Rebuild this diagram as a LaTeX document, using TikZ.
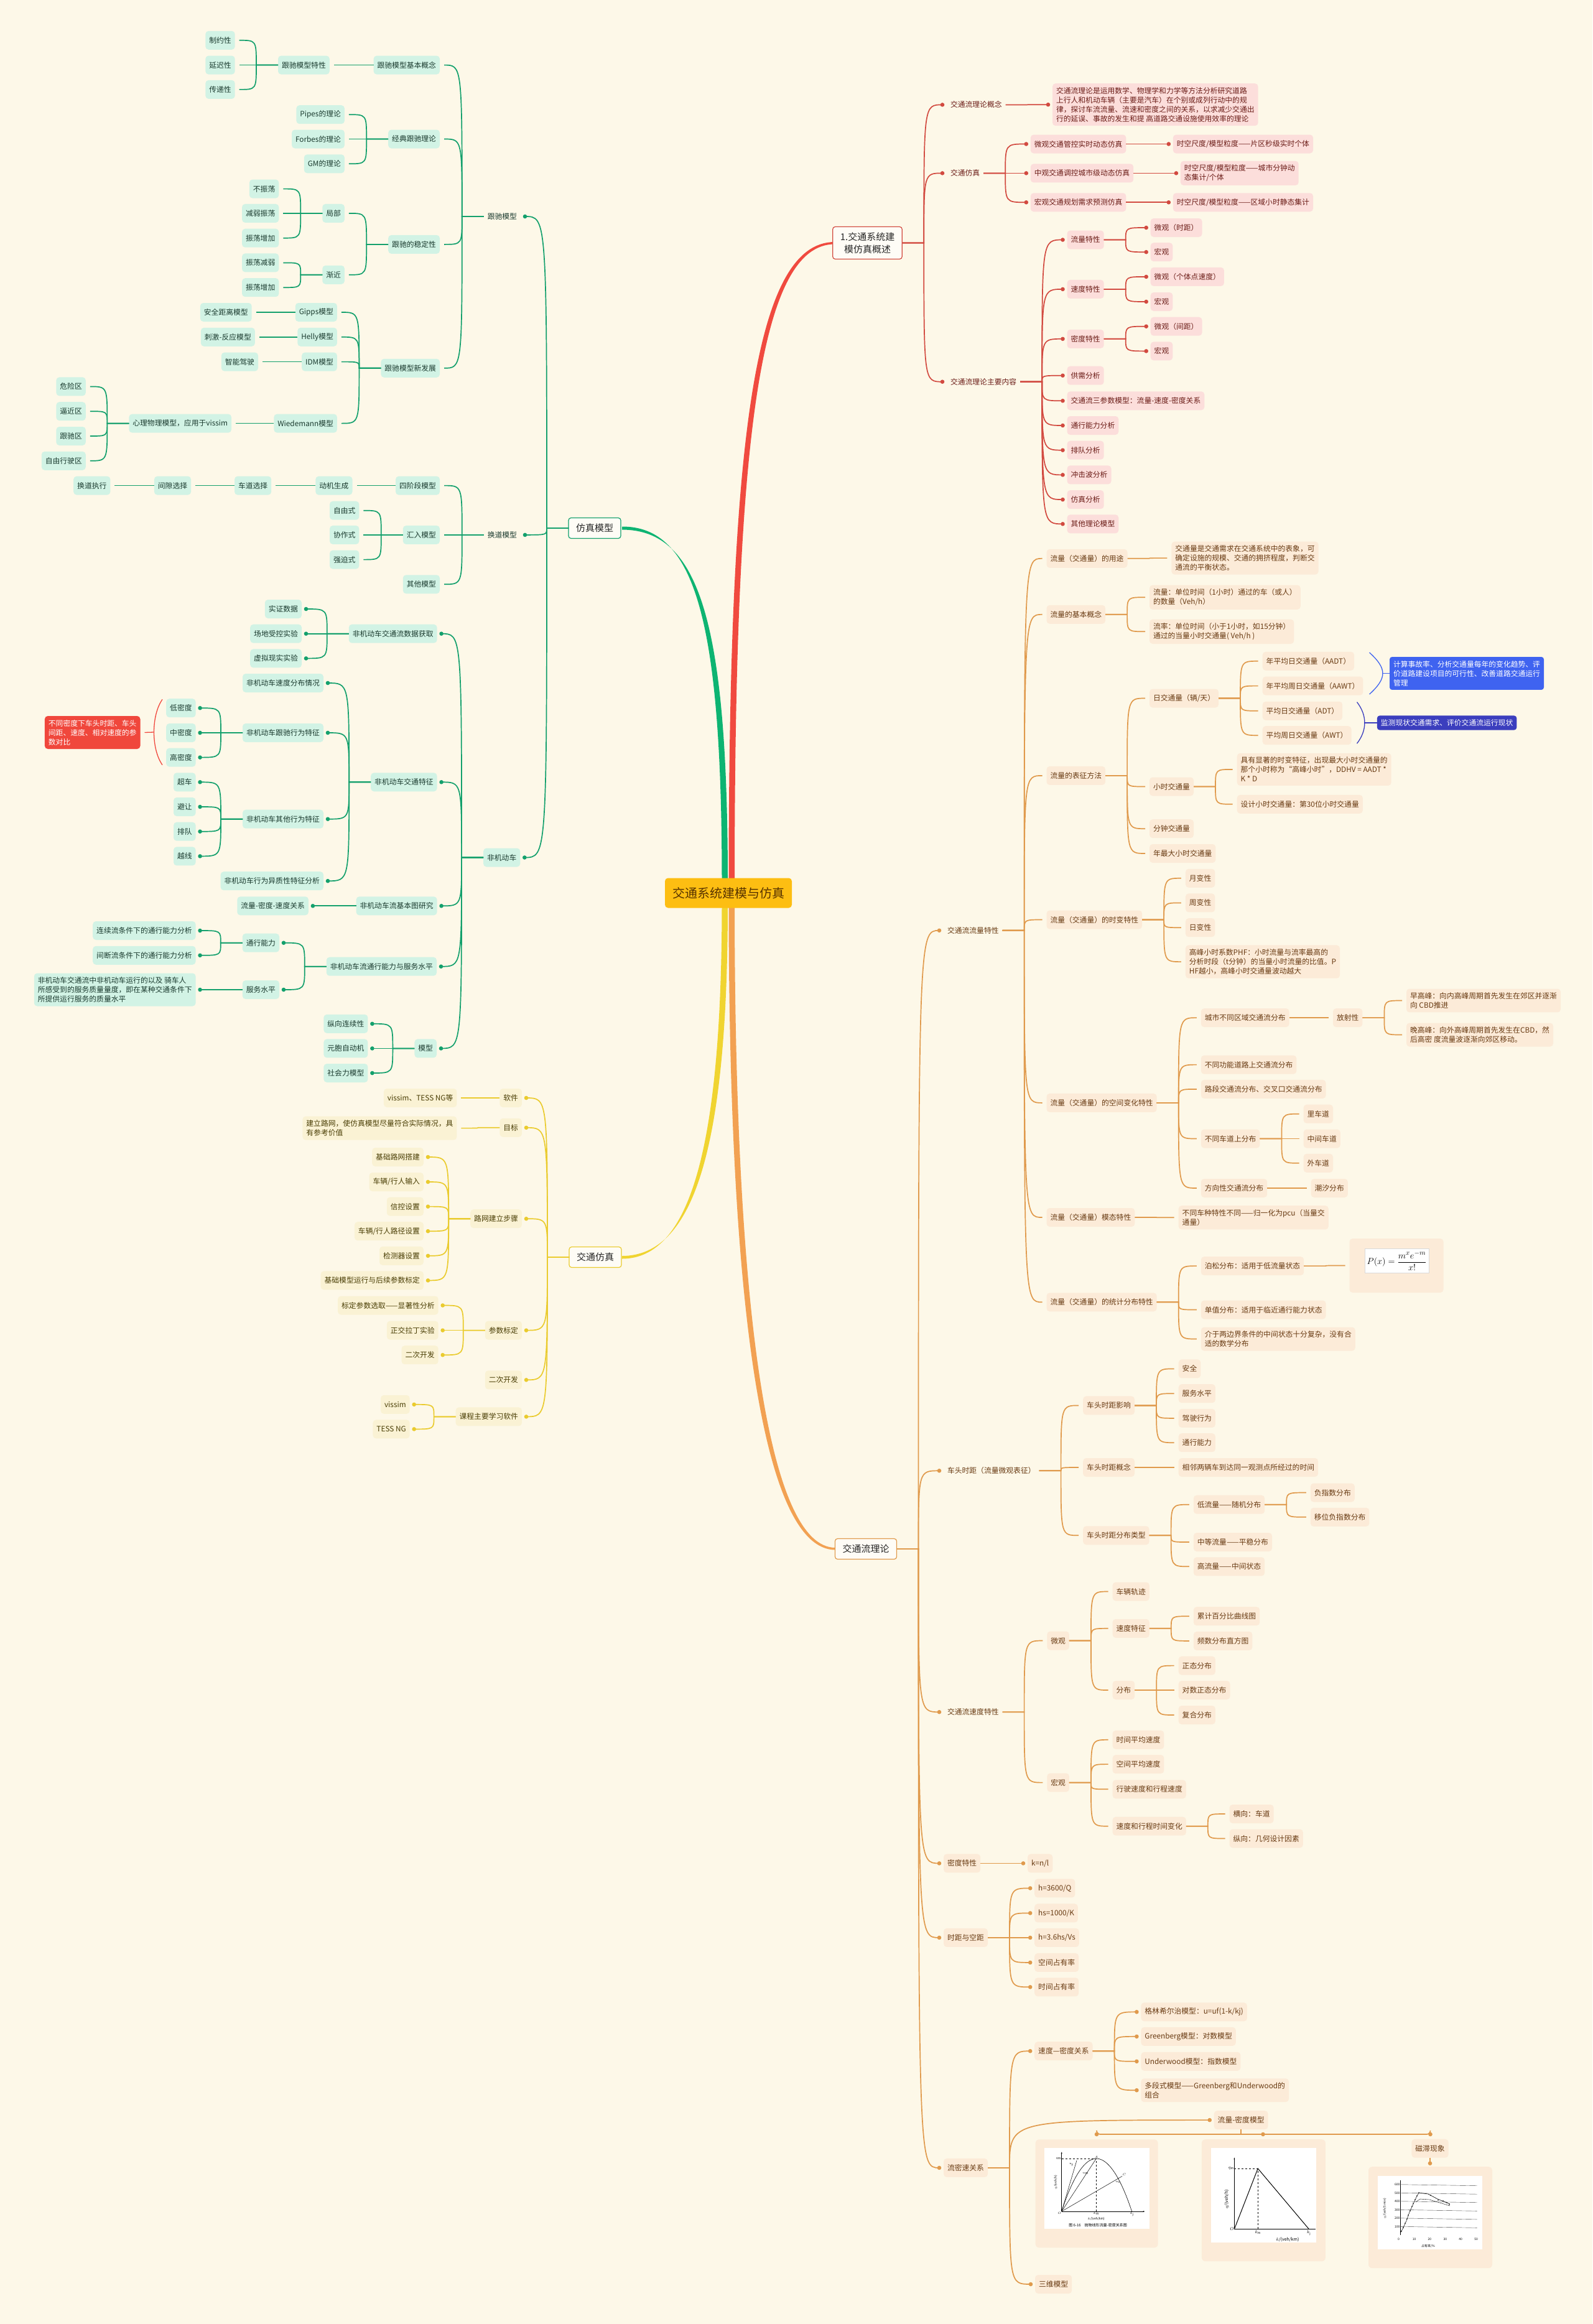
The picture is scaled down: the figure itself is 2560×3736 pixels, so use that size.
\documentclass[tikz,border=0pt]{standalone}
\usepackage{amsmath}
\usepackage{fontspec}
\setmainfont{Noto Sans CJK SC}
\usetikzlibrary{positioning,calc,arrows.meta}

\definecolor{bgc}{HTML}{FDF8E8}
\definecolor{gline}{HTML}{13A06C}
\definecolor{gband}{HTML}{0DB472}
\definecolor{gfill}{HTML}{D2F3E5}
\definecolor{gtext}{HTML}{1A3A2E}
\definecolor{rline}{HTML}{D24A40}
\definecolor{rband}{HTML}{F04A3F}
\definecolor{rfill}{HTML}{FCDEDB}
\definecolor{rtext}{HTML}{6B1C17}
\definecolor{oline}{HTML}{E09A4C}
\definecolor{oband}{HTML}{F2A152}
\definecolor{ofill}{HTML}{FCEBD8}
\definecolor{otext}{HTML}{683A12}
\definecolor{yline}{HTML}{EACB2E}
\definecolor{yband}{HTML}{F0D430}
\definecolor{yfill}{HTML}{FAF2D4}
\definecolor{ytext}{HTML}{4A3E05}
\definecolor{rootc}{HTML}{FDBE12}
\definecolor{roottext}{HTML}{573300}
\definecolor{callred}{HTML}{F0473C}
\definecolor{blueA}{HTML}{3F63F0}
\definecolor{blueB}{HTML}{3B3EBE}

\tikzset{
  base/.style={rounded corners=5pt, inner xsep=6pt, inner ysep=6pt, minimum height=30pt,
    outer xsep=7pt, outer ysep=0pt, align=left, font=\fontsize{11.8}{15}\selectfont},
  L/.style={base, anchor=east, xshift=7pt},
  R/.style={base, anchor=west, xshift=-7pt},
  gn/.style={fill=gfill, text=gtext},
  gt/.style={text=gtext},
  rn/.style={fill=rfill, text=rtext},
  rt/.style={text=rtext},
  on/.style={fill=ofill, text=otext},
  ot/.style={text=otext},
  yn/.style={fill=yfill, text=ytext},
  mainbox/.style={rounded corners=4pt, draw, line width=1.2pt, fill=white!60!bgc, text=black!85,
    inner xsep=12pt, inner ysep=6pt, minimum height=33pt, outer xsep=7pt, align=center,
    font=\fontsize{15}{20}\selectfont},
  bluebox/.style={rounded corners=4pt, inner xsep=6pt, inner ysep=6pt, anchor=west, align=left,
    text=white, font=\fontsize{11.8}{15}\selectfont},
  gl/.style={color=gline, line width=1.7pt},
  rl/.style={color=rline, line width=1.7pt},
  ol/.style={color=oline, line width=1.7pt},
  yl/.style={color=yline, line width=1.7pt},
  plt/.style={font=\fontsize{5}{6}\selectfont, inner sep=0.5pt},
  pltb/.style={font=\fontsize{7}{8}\selectfont, inner sep=0.5pt},
  axis/.style={line width=0.5pt, -{Stealth[length=3pt,width=2pt]}}
}

% connectors: left side runs from parent.west, right side from parent.east
\newcommand\linkL[3][gl]{\draw[#1] ([xshift=7pt]#2.west) -- ++(-35,0) coordinate (sp) .. controls (sp |- #3.east) .. (#3.east);}
\newcommand\linkLd[3][gl]{\linkL[#1]{#2}{#3}\fill[#1] (#3.east) circle (3.3);}
\newcommand\linkR[3][ol]{\draw[#1] ([xshift=-7pt]#2.east) -- ++(35,0) coordinate (sp) .. controls (sp |- #3.west) .. (#3.west);}
\newcommand\linkRd[3][ol]{\linkR[#1]{#2}{#3}\fill[#1] (#3.west) circle (3.3);}

\begin{document}
\begin{tikzpicture}[x=1pt,y=-1pt]
\useasboundingbox (0,0) rectangle (2560,3736);
\fill[bgc] (0,0) rectangle (2560,3736);

% the four thick main branches
\fill[gband] (1160.5,1420) .. controls (1160.5,1000) and (1118,846) .. (1000,846.5) -- (1000,851.5) .. controls (1124,851.5) and (1170,1000) .. (1170,1420) -- cycle;
\fill[rband] (1171.5,1420) .. controls (1171.5,700) and (1214,389) .. (1342,389) -- (1342,392.5) .. controls (1222,392.5) and (1181,700) .. (1181,1420) -- cycle;
\fill[yband] (1160.5,1450) .. controls (1160.5,1850) and (1108,2023.5) .. (1000,2023.5) -- (1000,2019) .. controls (1114,2019) and (1170,1850) .. (1170,1450) -- cycle;
\fill[oband] (1171.5,1450) .. controls (1171.5,2100) and (1226,2491.5) .. (1343,2491.5) -- (1343,2488) .. controls (1234,2488) and (1181,2100) .. (1181,1450) -- cycle;

% the root and the main nodes
\node[rounded corners=5pt, fill=rootc, text=roottext, inner xsep=12pt, minimum height=48pt,
  font=\fontsize{20}{24}\selectfont] (root) at (1171,1435.5) {交通系统建模与仿真};
\node[mainbox, draw=gline] (fzmx) at (956,849) {仿真模型};
\node[mainbox, draw=yline] (jtfz) at (957,2021) {交通仿真};
\node[mainbox, draw=rline, inner ysep=9pt] (gsz) at (1394.5,390.5) {1.交通系统建\\模仿真概述};
\node[mainbox, draw=oline] (jtl) at (1392,2490) {交通流理论};

%%%%%%%%%%%%%%%%%%%
%%% 仿真模型
%%%%%%%%%%%%%%%%%%%
\node[L,gt] (gcm) at (837,348) {跟驰模型};
\node[L,gt] (hdm) at (837,859.9) {换道模型};
\node[L,gn] (fjd) at (836.3,1378.5) {非机动车};
\linkLd{fzmx}{gcm}\linkLd{fzmx}{hdm}\linkLd{fzmx}{fjd}

% 跟驰模型
\node[L,gn] (gjb) at (707,104.6) {跟驰模型基本概念};
\node[L,gn] (gtx) at (529.8,104.6) {跟驰模型特性};
\node[L,gn] (zyx) at (377.7,64.8) {制约性};
\node[L,gn] (ycx) at (377.7,104.6) {延迟性};
\node[L,gn] (cdx) at (377.7,143.9) {传递性};
\node[L,gn] (gjd) at (707,223.5) {经典跟驰理论};
\node[L,gn] (pip) at (553.9,184.2) {Pipes的理论};
\node[L,gn] (frb) at (553.9,223.5) {Forbes的理论};
\node[L,gn] (gmt) at (553.9,263.3) {GM的理论};
\node[L,gn] (gwd) at (707,392.9) {跟驰的稳定性};
\node[L,gn] (jbu) at (553.9,342.9) {局部};
\node[L,gn] (jji) at (553.9,441.8) {渐近};
\node[L,gn] (bzd) at (448.3,303.6) {不振荡};
\node[L,gn] (jrz) at (448.3,342.9) {减弱振荡};
\node[L,gn] (zzja) at (448.3,382.7) {振荡增加};
\node[L,gn] (zdj) at (448.3,422.4) {振荡减弱};
\node[L,gn] (zzjb) at (448.3,462.2) {振荡增加};
\node[L,gn] (gxf) at (707,591.8) {跟驰模型新发展};
\node[L,gn] (gip) at (541.9,502) {Gipps模型};
\node[L,gn] (hly) at (541.9,541.8) {Helly模型};
\node[L,gn] (idm) at (541.9,581.6) {IDM模型};
\node[L,gn] (wdm) at (541.9,680.6) {Wiedemann模型};
\node[L,gn] (aqj) at (404.7,502) {安全距离模型};
\node[L,gn] (cjf) at (409.8,541.8) {刺激-反应模型};
\node[L,gn] (znj) at (415,581.6) {智能驾驶};
\node[L,gn] (xlw) at (372,680.6) {心理物理模型，应用于vissim};
\node[L,gn] (wxq) at (137.8,621.4) {危险区};
\node[L,gn] (bjq) at (137.8,661.2) {逼近区};
\node[L,gn] (gcq) at (137.8,701) {跟驰区};
\node[L,gn] (zxq) at (137.8,740.8) {自由行驶区};
\linkL{gcm}{gjb}\linkL{gcm}{gjd}\linkL{gcm}{gwd}\linkL{gcm}{gxf}
\linkL{gjb}{gtx}
\linkL{gtx}{zyx}\linkL{gtx}{ycx}\linkL{gtx}{cdx}
\linkL{gjd}{pip}\linkL{gjd}{frb}\linkL{gjd}{gmt}
\linkL{gwd}{jbu}\linkL{gwd}{jji}
\linkL{jbu}{bzd}\linkL{jbu}{jrz}\linkL{jbu}{zzja}
\linkL{jji}{zdj}\linkL{jji}{zzjb}
\linkL{gxf}{gip}\linkL{gxf}{hly}\linkL{gxf}{idm}\linkL{gxf}{wdm}
\linkL{gip}{aqj}\linkL{hly}{cjf}\linkL{idm}{znj}\linkL{wdm}{xlw}
\linkL{xlw}{wxq}\linkL{xlw}{bjq}\linkL{xlw}{gcq}\linkL{xlw}{zxq}

% 换道模型
\node[L,gn] (sjd) at (707,780.6) {四阶段模型};
\node[L,gn] (djs) at (566.5,780.6) {动机生成};
\node[L,gn] (cdxz) at (436.2,780.6) {车道选择};
\node[L,gn] (jxxz) at (307.1,780.6) {间隙选择};
\node[L,gn] (hdzx) at (177.4,780.6) {换道执行};
\node[L,gn] (hrm) at (707,859.9) {汇入模型};
\node[L,gn] (zysh) at (577.4,820.7) {自由式};
\node[L,gn] (xzsh) at (577.4,859.9) {协作式};
\node[L,gn] (qpsh) at (577.4,899.6) {强迫式};
\node[L,gn] (qtm) at (707,939.3) {其他模型};
\linkL{hdm}{sjd}\linkL{hdm}{hrm}\linkL{hdm}{qtm}
\linkL{sjd}{djs}\linkL{djs}{cdxz}\linkL{cdxz}{jxxz}\linkL{jxxz}{hdzx}
\linkL{hrm}{zysh}\linkL{hrm}{xzsh}\linkL{hrm}{qpsh}

% 非机动车
\node[L,gn] (fsj) at (702.6,1018.7) {非机动车交通流数据获取};
\node[L,gn] (szsj) at (485,979) {实证数据};
\node[L,gn] (cdsy) at (485,1018.7) {场地受控实验};
\node[L,gn] (xnsy) at (485,1058.4) {虚拟现实实验};
\node[L,gn] (ftz) at (702.6,1257.3) {非机动车交通特征};
\node[L,gn] (fsd) at (520,1098) {非机动车速度分布情况};
\node[L,gn] (fgc) at (520,1178) {非机动车跟驰行为特征};
\node[L,gn] (fqt) at (520,1316.7) {非机动车其他行为特征};
\node[L,gn] (fyz) at (520,1416.2) {非机动车行为异质性特征分析};
\node[L,gn] (dmd) at (314.6,1138.2) {低密度};
\node[L,gn] (zmd) at (314.6,1178) {中密度};
\node[L,gn] (gmd) at (314.6,1217.6) {高密度};
\node[L,gn] (cche) at (314.6,1257.3) {超车};
\node[L,gn] (bran) at (314.6,1297) {避让};
\node[L,gn] (pdui) at (314.6,1336.7) {排队};
\node[L,gn] (yxian) at (314.6,1376.4) {越线};
\node[L,gn] (fjb) at (702.6,1456.3) {非机动车流基本图研究};
\node[L,gn] (lms) at (495.9,1456.3) {流量-密度-速度关系};
\node[L,gn] (ftx) at (702,1553.7) {非机动车流通行能力与服务水平};
\node[L,gn] (txnl) at (449,1515.7) {通行能力};
\node[L,gn] (fwsp) at (449,1591) {服务水平};
\node[L,gn] (lxl) at (314.6,1496) {连续流条件下的通行能力分析};
\node[L,gn] (jdl) at (314.6,1535.8) {间断流条件下的通行能力分析};
\node[L,gn] (fwms) at (314.6,1591) {非机动车交通流中非机动车运行的以及 骑车人\\所感受到的服务质量量度，即在某种交通条件下\\所提供运行服务的质量水平};
\node[L,gn] (fmx) at (702,1685.4) {模型};
\node[L,gn] (zxlx) at (591.4,1645.8) {纵向连续性};
\node[L,gn] (ybzd) at (591.4,1685.4) {元胞自动机};
\node[L,gn] (shl) at (591.4,1725) {社会力模型};
\linkLd{fjd}{fsj}\linkLd{fjd}{ftz}\linkLd{fjd}{fjb}\linkLd{fjd}{ftx}\linkLd{fjd}{fmx}
\linkLd{fsj}{szsj}\linkLd{fsj}{cdsy}\linkLd{fsj}{xnsy}
\linkLd{ftz}{fsd}\linkLd{ftz}{fgc}\linkLd{ftz}{fqt}\linkLd{ftz}{fyz}
\linkLd{fgc}{dmd}\linkLd{fgc}{zmd}\linkLd{fgc}{gmd}
\linkLd{fqt}{cche}\linkLd{fqt}{bran}\linkLd{fqt}{pdui}\linkLd{fqt}{yxian}
\linkLd{fjb}{lms}
\linkLd{ftx}{txnl}\linkLd{ftx}{fwsp}
\linkLd{txnl}{lxl}\linkLd{txnl}{jdl}\linkLd{fwsp}{fwms}
\linkLd{fmx}{zxlx}\linkLd{fmx}{ybzd}\linkLd{fmx}{shl}

% the red note on the three densities
\node[base, fill=callred, text=white] (dbd) at (148.7,1177.5) {不同密度下车头时距、车头\\间距、速度、相对速度的参\\数对比};
\draw[callred, line width=1.3pt] (261,1124.4) .. controls (243,1150) and (243,1204) .. (261,1229.6);
\draw[callred, line width=1.3pt] (247.5,1177) -- (dbd.east);

%%%%%%%%%%%%%%%%%%%
%%% 交通仿真
%%%%%%%%%%%%%%%%%%%
\node[L,yn] (rj) at (839,1765) {软件};
\node[L,yn] (rjd) at (734.4,1765) {vissim、TESS NG等};
\node[L,yn] (mb) at (839,1812.8) {目标};
\node[L,yn] (mbd) at (734.4,1813.6) {建立路网，使仿真模型尽量符合实际情况，具\\有参考价值};
\node[L,yn] (lw) at (839,1959.2) {路网建立步骤};
\node[L,yn] (lwa) at (681,1860) {基础路网搭建};
\node[L,yn] (lwb) at (681,1900) {车辆/行人输入};
\node[L,yn] (lwc) at (681,1939.6) {信控设置};
\node[L,yn] (lwd) at (681,1979.2) {车辆/行人路径设置};
\node[L,yn] (lwe) at (681,2018.8) {检测器设置};
\node[L,yn] (lwf) at (681,2058.4) {基础模型运行与后续参数标定};
\node[L,yn] (csbd) at (839,2138.6) {参数标定};
\node[L,yn] (csa) at (704.7,2098.5) {标定参数选取——显著性分析};
\node[L,yn] (csb) at (704.7,2138.6) {正交拉丁实验};
\node[L,yn] (csc) at (704.7,2178.2) {二次开发};
\node[L,yn] (eckf) at (839,2218.3) {二次开发};
\node[L,yn] (kcrj) at (839,2277.4) {课程主要学习软件};
\node[L,yn] (kca) at (658.7,2257.8) {vissim};
\node[L,yn] (kcb) at (658.7,2297.4) {TESS NG};
\linkLd[yl]{jtfz}{rj}\linkLd[yl]{jtfz}{mb}\linkLd[yl]{jtfz}{lw}\linkLd[yl]{jtfz}{csbd}\linkLd[yl]{jtfz}{eckf}\linkLd[yl]{jtfz}{kcrj}
\linkL[yl]{rj}{rjd}\linkL[yl]{mb}{mbd}
\linkLd[yl]{lw}{lwa}\linkLd[yl]{lw}{lwb}\linkLd[yl]{lw}{lwc}\linkLd[yl]{lw}{lwd}\linkLd[yl]{lw}{lwe}\linkLd[yl]{lw}{lwf}
\linkLd[yl]{csbd}{csa}\linkLd[yl]{csbd}{csb}\linkLd[yl]{csbd}{csc}
\linkLd[yl]{kcrj}{kca}\linkLd[yl]{kcrj}{kcb}

%%%%%%%%%%%%%%%%%%%
%%% 1.交通系统建模仿真概述
%%%%%%%%%%%%%%%%%%%
\node[R,rt] (glgn) at (1522,168.4) {交通流理论概念};
\node[R,rn] (glgd) at (1692,168.2) {交通流理论是运用数学、物理学和力学等方法分析研究道路\\上行人和机动车辆（主要是汽车）在个别或成列行动中的规\\律，探讨车流流量、流速和密度之间的关系，以求减少交通出\\行的延误、事故的发生和提 高道路交通设施使用效率的理论};
\node[R,rt] (jfz) at (1522,278.4) {交通仿真};
\node[R,rn] (fza) at (1656.8,231.5) {微观交通管控实时动态仿真};
\node[R,rn] (fzb) at (1656.8,278.4) {中观交通调控城市级动态仿真};
\node[R,rn] (fzc) at (1656.8,325.3) {宏观交通规划需求预测仿真};
\node[R,rn] (fzad) at (1885.8,231.5) {时空尺度/模型粒度——片区秒级实时个体};
\node[R,rn] (fzbd) at (1897.9,278.4) {时空尺度/模型粒度——城市分钟动\\态集计/个体};
\node[R,rn] (fzcd) at (1885.8,325.3) {时空尺度/模型粒度——区域小时静态集计};
\node[R,rt] (zynr) at (1522,613.7) {交通流理论主要内容};
\node[R,rn] (ra) at (1715.5,385.5) {流量特性};
\node[R,rn] (raa) at (1849.7,366) {微观（时距）};
\node[R,rn] (rab) at (1849.7,405.2) {宏观};
\node[R,rn] (rb) at (1715.5,464.9) {速度特性};
\node[R,rn] (rba) at (1849.7,444.9) {微观（个体点速度）};
\node[R,rn] (rbb) at (1849.7,485) {宏观};
\node[R,rn] (rc) at (1715.5,544.8) {密度特性};
\node[R,rn] (rca) at (1849.7,524.7) {微观（间距）};
\node[R,rn] (rcb) at (1849.7,564.4) {宏观};
\node[R,rn] (rd) at (1715.5,603.7) {供需分析};
\node[R,rn] (re) at (1715.5,644.3) {交通流三参数模型：流量-速度-密度关系};
\node[R,rn] (rf) at (1715.5,684) {通行能力分析};
\node[R,rn] (rg) at (1715.5,723.7) {排队分析};
\node[R,rn] (rh) at (1715.5,763.4) {冲击波分析};
\node[R,rn] (ri) at (1715.5,803.1) {仿真分析};
\node[R,rn] (rj2) at (1715.5,842.3) {其他理论模型};
\linkRd[rl]{gsz}{glgn}\linkRd[rl]{gsz}{jfz}\linkRd[rl]{gsz}{zynr}
\linkRd[rl]{glgn}{glgd}
\linkRd[rl]{jfz}{fza}\linkRd[rl]{jfz}{fzb}\linkRd[rl]{jfz}{fzc}
\linkRd[rl]{fza}{fzad}\linkRd[rl]{fzb}{fzbd}\linkRd[rl]{fzc}{fzcd}
\linkRd[rl]{zynr}{ra}\linkRd[rl]{zynr}{rb}\linkRd[rl]{zynr}{rc}\linkRd[rl]{zynr}{rd}\linkRd[rl]{zynr}{re}
\linkRd[rl]{zynr}{rf}\linkRd[rl]{zynr}{rg}\linkRd[rl]{zynr}{rh}\linkRd[rl]{zynr}{ri}\linkRd[rl]{zynr}{rj2}
\linkRd[rl]{ra}{raa}\linkRd[rl]{ra}{rab}\linkRd[rl]{rb}{rba}\linkRd[rl]{rb}{rbb}\linkRd[rl]{rc}{rca}\linkRd[rl]{rc}{rcb}

%%%%%%%%%%%%%%%%%%%
%%% 交通流理论
%%%%%%%%%%%%%%%%%%%
\node[R,ot] (ola) at (1517,1495.8) {交通流流量特性};
\node[R,ot] (olb) at (1517,2364.3) {车头时距（流量微观表征）};
\node[R,ot] (olc) at (1517,2752.2) {交通流速度特性};
\node[R,on] (old) at (1517,2995.4) {密度特性};
\node[R,on] (ole) at (1517,3114.9) {时距与空距};
\node[R,on] (olf) at (1517,3484.9) {流密速关系};
\linkRd{jtl}{ola}\linkRd{jtl}{olb}\linkRd{jtl}{olc}\linkRd{jtl}{old}\linkRd{jtl}{ole}\linkRd{jtl}{olf}

% 交通流流量特性
\node[R,on] (yt) at (1682.5,897.8) {流量（交通量）的用途};
\node[R,on] (ytd) at (1883.4,897.1) {交通量是交通需求在交通系统中的表象，可\\确定设施的规模、交通的拥挤程度，判断交\\通流的平衡状态。};
\node[R,on] (jbgn) at (1682.5,987.8) {流量的基本概念};
\node[R,on] (jbga) at (1848,960.2) {流量：单位时间（1小时）通过的车（或人）\\的数量（Veh/h）};
\node[R,on] (jbgb) at (1848,1015.3) {流率：单位时间（小于1小时，如15分钟）\\通过的当量小时交通量( Veh/h )};
\node[R,on] (bzff) at (1682.5,1246.9) {流量的表征方法};
\node[R,on] (rjtl) at (1848,1122.5) {日交通量（辆/天）};
\node[R,on] (aadt) at (2029.7,1062.8) {年平均日交通量（AADT）};
\node[R,on] (aawt) at (2029.7,1102.6) {年平均周日交通量（AAWT）};
\node[R,on] (adt) at (2029.7,1142.8) {平均日交通量（ADT）};
\node[R,on] (awt) at (2029.7,1182.2) {平均周日交通量（AWT）};
\node[R,on] (xsjt) at (1848,1264.5) {小时交通量};
\node[R,on] (xsja) at (1988.7,1236.9) {具有显著的时变特征，出现最大小时交通量的\\那个小时称为“高峰小时”，DDHV = AADT *\\K * D};
\node[R,on] (xsjb) at (1988.7,1292.8) {设计小时交通量：第30位小时交通量};
\node[R,on] (fzjt) at (1848,1332.2) {分钟交通量};
\node[R,on] (nzd) at (1848,1372) {年最大小时交通量};
\node[R,on] (sbtx) at (1682.5,1478.5) {流量（交通量）的时变特性};
\node[R,on] (ybx) at (1905.9,1411.8) {月变性};
\node[R,on] (zbx) at (1905.9,1451.4) {周变性};
\node[R,on] (rbx) at (1905.9,1491.2) {日变性};
\node[R,on] (phf) at (1905.9,1546.1) {高峰小时系数PHF：小时流量与流率最高的\\分析时段（t分钟）的当量小时流量的比值。P\\HF越小，高峰小时交通量波动越大};
\node[R,on] (kjbh) at (1682.5,1772.9) {流量（交通量）的空间变化特性};
\node[R,on] (csqy) at (1930.8,1636.1) {城市不同区域交通流分布};
\node[R,on] (fsx) at (2143,1636.1) {放射性};
\node[R,on] (zgf) at (2261,1608.5) {早高峰：向内高峰周期首先发生在郊区并逐渐\\向 CBD推进};
\node[R,on] (wgf) at (2261,1663.5) {晚高峰：向外高峰周期首先发生在CBD，然\\后高密 度流量波逐渐向郊区移动。};
\node[R,on] (bgn) at (1930.8,1711.6) {不同功能道路上交通流分布};
\node[R,on] (ldjc) at (1930.8,1750.9) {路段交通流分布、交叉口交通流分布};
\node[R,on] (bcd) at (1930.8,1830.5) {不同车道上分布};
\node[R,on] (lcd) at (2095.6,1790.7) {里车道};
\node[R,on] (zjcd) at (2095.6,1830.5) {中间车道};
\node[R,on] (wcd) at (2095.6,1869.8) {外车道};
\node[R,on] (fxx) at (1930.8,1910) {方向性交通流分布};
\node[R,on] (cxfb) at (2107.6,1910) {潮汐分布};
\node[R,on] (mttx) at (1682.5,1957) {流量（交通量）模态特性};
\node[R,on] (pcu) at (1894.7,1957.3) {不同车种特性不同——归一化为pcu（当量交\\通量）};
\node[R,on] (tjfb) at (1682.5,2093.3) {流量（交通量）的统计分布特性};
\node[R,on] (bsfb) at (1930.8,2035.1) {泊松分布：适用于低流量状态};
\node[R,on] (dzfb) at (1930.8,2105.5) {单值分布：适用于临近通行能力状态};
\node[R,on] (zjzt) at (1930.8,2152.5) {介于两边界条件的中间状态十分复杂，没有合\\适的数学分布};
\node[R, fill=ofill, minimum width=151pt, minimum height=87pt] (psf) at (2169.5,2034.5) {};
\node[fill=white, draw=black!15, inner sep=4pt, font=\fontsize{15}{18}\selectfont] (psfin) at (2245.5,2027) {$P(x)=\dfrac{m^{x}e^{-m}}{x!}$};
\linkR{ola}{yt}\linkR{ola}{jbgn}\linkR{ola}{bzff}\linkR{ola}{sbtx}\linkR{ola}{kjbh}\linkR{ola}{mttx}\linkR{ola}{tjfb}
\linkR{yt}{ytd}
\linkR{jbgn}{jbga}\linkR{jbgn}{jbgb}
\linkR{bzff}{rjtl}\linkR{bzff}{xsjt}\linkR{bzff}{fzjt}\linkR{bzff}{nzd}
\linkR{rjtl}{aadt}\linkR{rjtl}{aawt}\linkR{rjtl}{adt}\linkR{rjtl}{awt}
\linkR{xsjt}{xsja}\linkR{xsjt}{xsjb}
\linkR{sbtx}{ybx}\linkR{sbtx}{zbx}\linkR{sbtx}{rbx}\linkR{sbtx}{phf}
\linkR{kjbh}{csqy}\linkR{kjbh}{bgn}\linkR{kjbh}{ldjc}\linkR{kjbh}{bcd}\linkR{kjbh}{fxx}
\linkR{csqy}{fsx}\linkR{fsx}{zgf}\linkR{fsx}{wgf}
\linkR{bcd}{lcd}\linkR{bcd}{zjcd}\linkR{bcd}{wcd}
\linkR{fxx}{cxfb}
\linkR{mttx}{pcu}
\linkR{tjfb}{bsfb}\linkR{tjfb}{dzfb}\linkR{tjfb}{zjzt}
\linkR{bsfb}{psf}

% the two blue notes on the daily volumes
\node[bluebox, fill=blueA] (zsa) at (2233.8,1082.5) {计算事故率、分析交通量每年的变化趋势、评\\价道路建设项目的可行性、改善道路交通运行\\管理};
\node[bluebox, fill=blueB] (zsb) at (2213.7,1162) {监测现状交通需求、评价交通流运行现状};
\draw[blueA, line width=1.3pt] (2201.6,1049) .. controls (2230,1075) and (2230,1090) .. (2201.6,1116);
\draw[blueA, line width=1.3pt] (2222.9,1082.5) -- (zsa.west);
\draw[blueB, line width=1.3pt] (2181.5,1128.6) .. controls (2198,1150) and (2198,1174) .. (2181.5,1195.2);
\draw[blueB, line width=1.3pt] (2193.9,1162) -- (zsb.west);

% 车头时距
\node[R,on] (ctyx) at (1741.2,2259.4) {车头时距影响};
\node[R,on] (aq) at (1894.7,2200.4) {安全};
\node[R,on] (fwsa) at (1894.7,2240.2) {服务水平};
\node[R,on] (jsxw) at (1894.7,2279.9) {驾驶行为};
\node[R,on] (txnb) at (1894.7,2319.2) {通行能力};
\node[R,on] (ctgn) at (1741.2,2359) {车头时距概念};
\node[R,on] (xlcd) at (1894.7,2359) {相邻两辆车到达同一观测点所经过的时间};
\node[R,on] (ctfb) at (1741.2,2468.3) {车头时距分布类型};
\node[R,on] (dll) at (1918.8,2418.7) {低流量——随机分布};
\node[R,on] (fzs) at (2106.8,2399.5) {负指数分布};
\node[R,on] (ywf) at (2106.8,2438.8) {移位负指数分布};
\node[R,on] (zdl) at (1918.8,2479) {中等流量——平稳分布};
\node[R,on] (gll) at (1918.8,2518.3) {高流量——中间状态};
\linkR{olb}{ctyx}\linkR{olb}{ctgn}\linkR{olb}{ctfb}
\linkR{ctyx}{aq}\linkR{ctyx}{fwsa}\linkR{ctyx}{jsxw}\linkR{ctyx}{txnb}
\linkR{ctgn}{xlcd}
\linkR{ctfb}{dll}\linkR{ctfb}{zdl}\linkR{ctfb}{gll}
\linkR{dll}{fzs}\linkR{dll}{ywf}

% 交通流速度特性
\node[R,on] (wg) at (1683.3,2637.5) {微观};
\node[R,on] (clgj) at (1788.6,2558.5) {车辆轨迹};
\node[R,on] (sdtz) at (1788.6,2617.8) {速度特征};
\node[R,on] (ljbf) at (1918.8,2598.2) {累计百分比曲线图};
\node[R,on] (psfz) at (1918.8,2637.9) {频数分布直方图};
\node[R,on] (fbu) at (1788.6,2717) {分布};
\node[R,on] (ztfb) at (1894.7,2677.6) {正态分布};
\node[R,on] (dsfb) at (1894.7,2717) {对数正态分布};
\node[R,on] (fhfb) at (1894.7,2757) {复合分布};
\node[R,on] (hg) at (1683.3,2865.6) {宏观};
\node[R,on] (sjpj) at (1788.6,2796.8) {时间平均速度};
\node[R,on] (kjpj) at (1788.6,2836.1) {空间平均速度};
\node[R,on] (xssd) at (1788.6,2876.3) {行驶速度和行程速度};
\node[R,on] (sdbh) at (1788.6,2935.7) {速度和行程时间变化};
\node[R,on] (hxcd) at (1976.6,2916) {横向：车道};
\node[R,on] (zxjh) at (1976.6,2955.5) {纵向：几何设计因素};
\linkR{olc}{wg}\linkR{olc}{hg}
\linkR{wg}{clgj}\linkR{wg}{sdtz}\linkR{wg}{fbu}
\linkR{sdtz}{ljbf}\linkR{sdtz}{psfz}
\linkR{fbu}{ztfb}\linkR{fbu}{dsfb}\linkR{fbu}{fhfb}
\linkR{hg}{sjpj}\linkR{hg}{kjpj}\linkR{hg}{xssd}\linkR{hg}{sdbh}
\linkR{sdbh}{hxcd}\linkR{sdbh}{zxjh}

% 密度特性, 时距与空距
\node[R,on] (knl) at (1652,2995.4) {k=n/l};
\node[R,on] (hqa) at (1663.2,3035.4) {h=3600/Q};
\node[R,on] (hqb) at (1663.2,3075.4) {hs=1000/K};
\node[R,on] (hqc) at (1663.2,3114.9) {h=3.6hs/Vs};
\node[R,on] (kjzy) at (1663.2,3154.9) {空间占有率};
\node[R,on] (sjzy) at (1663.2,3194.3) {时间占有率};
\linkRd{old}{knl}
\linkRd{ole}{hqa}\linkRd{ole}{hqb}\linkRd{ole}{hqc}\linkRd{ole}{kjzy}\linkRd{ole}{sjzy}

% 流密速关系
\node[R,on] (sdmd) at (1663.2,3297.2) {速度—密度关系};
\node[R,on] (glx) at (1834.4,3234.3) {格林希尔治模型：u=uf(1-k/kj)};
\node[R,on] (grb) at (1834.4,3273.8) {Greenberg模型：对数模型};
\node[R,on] (udw) at (1834.4,3313.8) {Underwood模型：指数模型};
\node[R,on] (dds) at (1834.4,3360.2) {多段式模型——Greenberg和Underwood的\\组合};
\node[R,on] (lmm) at (1951.7,3408.1) {流量-密度模型};
\node[R,on] (swmx) at (1664,3672) {三维模型};
\linkRd{olf}{sdmd}\linkRd{olf}{lmm}\linkRd{olf}{swmx}
\linkRd{sdmd}{glx}\linkRd{sdmd}{grb}\linkRd{sdmd}{udw}\linkRd{sdmd}{dds}

% the three pictures below 流量-密度模型
\node[fill=ofill, rounded corners=6pt, minimum width=197pt, minimum height=174pt, inner sep=0pt] (tua) at (1763.2,3526.3) {};
\node[fill=ofill, rounded corners=6pt, minimum width=199pt, minimum height=196pt, inner sep=0pt] (tub) at (2031.4,3537.2) {};
\node[R,on] (czxx) at (2269.4,3453.7) {磁滞现象};
\node[fill=ofill, rounded corners=6pt, minimum width=199pt, minimum height=163pt, inner sep=0pt] (tuc) at (2299.5,3564.7) {};
\node[fill=white, minimum width=169pt, minimum height=130pt, inner sep=0pt] (tuain) at (1763.4,3518.3) {};
\node[fill=white, minimum width=169pt, minimum height=152pt, inner sep=0pt] (tubin) at (2031,3529.2) {};
\node[fill=white, minimum width=168pt, minimum height=118pt, inner sep=0pt] (tucin) at (2298.8,3557.2) {};
\coordinate (barl) at (1763,3431);
\coordinate (barm) at (2030.5,3431);
\coordinate (barr) at (2299.5,3431);
\draw[ol] (lmm.south) -- (lmm.south |- barm);
\draw[ol, rounded corners=6pt] ([yshift=5]barl) -- (barl) -- (barr) -- ([yshift=5]barr);
\fill[ol] (barl) circle (3.3) (barm) circle (3.3) (barr) circle (3.3);
\draw[ol] (czxx.south) -- ++(0,9) coordinate (czd);
\fill[ol] (czd) circle (3.3);

% picture one: parabolic q-k curve
\coordinate (pao) at (1706.7,3555);
\draw[axis] (pao) -- (1706.7,3459.3);
\draw[axis] (pao) -- (1840.5,3555);
\draw[line width=0.6pt] (pao) parabola bend (1762.4,3470) (1819.6,3555);
\draw[dashed, line width=0.4pt] (1706.7,3470) -- (1762.4,3470) -- (1762.4,3555);
\draw[line width=0.5pt] (pao) -- (1762.4,3470);
\draw[line width=0.5pt] (pao) -- (1804.1,3498.3);
\draw[line width=0.5pt] (pao) -- (1731,3473);
\node[plt, left] (paqm) at (1706.7,3470) {$q_{\mathrm m}$};
\node[plt, above] (paa) at (1762.4,3470) {$A$};
\node[plt, above right] (pac) at (1804.1,3498.3) {$C$};
\node[plt] (pauf) at (1722,3480) {$u_{\mathrm f}$};
\node[plt] (paum) at (1745,3494) {$u_{\mathrm m}$};
\node[plt] (pauc) at (1797,3508) {$u_{\mathrm c}$};
\node[plt, below left] (pao0) at (pao) {$O$};
\node[plt, below] (pakm) at (1762.4,3555) {$k_{\mathrm m}$};
\node[plt, below] (pakj) at (1819.6,3555) {$k_{\mathrm j}$};
\node[plt] (pakx) at (1762.4,3567) {$k$/(veh/km)};
\node[plt, rotate=90] (paqy) at (1697,3508) {$q$/(veh/h)};
\node[font=\fontsize{6}{7}\selectfont, inner sep=0.5pt] (pacap) at (1765,3577) {图 6-16\quad 抛物线形流量-密度关系图};

% picture two: triangular q-k curve
\coordinate (pbo) at (1984.4,3583.3);
\draw[axis] (pbo) -- (1984.4,3468.3);
\draw[line width=0.5pt] (pbo) -- (2115.3,3583.3);
\draw[line width=1pt] (pbo) -- (2022.2,3486) -- (2104.2,3583.3);
\draw[dashed, line width=0.5pt] (1984.4,3486) -- (2022.2,3486) -- (2022.2,3583.3);
\node[pltb, left] (pbqm) at (1984.4,3486) {$q_{\mathrm m}$};
\node[pltb, left] (pbo0) at (1984.4,3583.3) {$O$};
\node[pltb, below] (pbkm) at (2022.2,3585) {$k_{\mathrm m}$};
\node[pltb, below] (pbkj) at (2104.2,3585) {$k_{\mathrm j}$};
\node[pltb] (pbkx) at (2070,3600) {$k$/(veh/km)};
\node[pltb, rotate=90] (pbqy) at (1972,3535) {$q$/(veh/h)};

% picture three: occupancy data
\foreach \q/\yy in {100/3579.3,200/3565.8,300/3552.3,400/3538.7,500/3525.2,600/3511.7}{
  \draw[line width=0.4pt, black!70] (2251,\yy) -- (2374.6,\yy+2);
  \node[plt, left] (pcy\q) at (2251,\yy) {\q};
}
\foreach \o/\xx in {0/2248.6,10/2273.5,20/2298.4,30/2323.3,40/2348.2,50/2373.1}{
  \node[plt] (pcx\o) at (\xx,3599.3) {\o};
}
\draw[line width=0.4pt] (2251,3592.8) -- (2251,3505);
\draw[line width=0.5pt] (2251,3590) -- (2255,3583) -- (2261,3570) -- (2266,3556) -- (2272,3543) -- (2277,3532) -- (2281,3525);
\draw[line width=0.6pt] (2281,3525) -- (2296,3527) -- (2311,3535) -- (2331,3543);
\draw[line width=0.4pt] (2276,3540) -- (2283,3535) -- (2298,3536) -- (2331,3546);
\foreach \px/\py in {2253/3587,2256/3581,2259/3574,2262/3567,2264/3561,2267/3554,2270/3547,2272/3542,2275/3536,2278/3530,2281/3525,2300/3529,2312/3537,2320/3538,2326/3541,2330/3544}{
  \fill (\px,\py) circle (0.9);
}
\node[plt, rotate=90] (pcqy) at (2226,3550) {$q$/(veh/5 min)};
\node[plt] (pcxl) at (2296,3611) {占有率/\%};

\end{tikzpicture}
\end{document}
